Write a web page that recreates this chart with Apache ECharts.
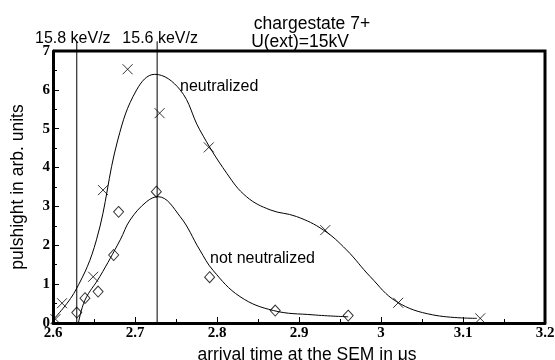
<!DOCTYPE html>
<html>
<head>
<meta charset="utf-8">
<script src="https://cdn.jsdelivr.net/npm/echarts@6/dist/echarts.min.js"></script>
<style>
  html, body { margin: 0; padding: 0; background: #fff; }
  #chart { width: 555px; height: 360px; }
</style>
</head>
<body>
<div id="chart"></div>
<script>
// measured points, arrival time (us) vs pulse height
const neutralX = [2.603, 2.611, 2.649, 2.661, 2.691, 2.730, 2.790, 2.932, 3.021, 3.121];
const neutralY = [0.10, 0.51, 1.19, 3.42, 6.53, 5.40, 4.52, 2.39, 0.52, 0.12];
const notNeutralX = [2.629, 2.639, 2.655, 2.674, 2.680, 2.726, 2.791, 2.871, 2.960];
const notNeutralY = [0.27, 0.64, 0.81, 1.75, 2.86, 3.38, 1.18, 0.32, 0.19];

// fitted curves
const fitNeutralX = [2.600, 2.627, 2.653, 2.679, 2.702, 2.724, 2.755, 2.779, 2.812, 2.836, 2.865, 2.897, 2.930, 2.958, 2.987, 3.019, 3.063, 3.117];
const fitNeutralY = [0.08, 0.82, 2.14, 4.71, 6.00, 6.40, 6.00, 4.97, 3.85, 3.25, 2.91, 2.74, 2.39, 1.88, 1.19, 0.55, 0.21, 0.12];
const fitNotNeutralX = [2.631, 2.639, 2.657, 2.682, 2.694, 2.714, 2.728, 2.755, 2.779, 2.795, 2.828, 2.869, 2.917, 2.960];
const fitNotNeutralY = [0.00, 0.59, 1.19, 2.14, 2.65, 3.12, 3.25, 2.74, 1.88, 1.36, 0.68, 0.32, 0.21, 0.16];

// energy markers
const energyX = [2.629, 2.727];
const energyLabels = ["15.8 keV/z", "15.6 keV/z"];

// axis range
const xMin = 2.6, xMax = 3.2, yMin = 0, yMax = 7;

const zip = (xs, ys) => xs.map((x, i) => [x, ys[i]]);
const tickFont = { fontFamily: "Liberation Serif", fontWeight: "bold", fontSize: 15, color: "#000" };
const bigFont = { fontFamily: "Liberation Sans", fontSize: 17.5, fontWeight: "normal", color: "#000" };

const energySeries = energyX.map((x, i) => ({
  type: "line",
  data: [
    [x, 0],
    {
      value: [x, 7.25],
      label: {
        show: true,
        formatter: energyLabels[i],
        position: "top",
        distance: 0,
        offset: [i === 0 ? -4 : 3, 5],
        fontFamily: "Liberation Sans",
        fontSize: 16,
        color: "#000",
      },
    },
  ],
  clip: false,
  symbol: "circle",
  symbolSize: 0,
  showSymbol: true,
  silent: true,
  lineStyle: { color: "#000", width: 1 },
}));

const chart = echarts.init(document.getElementById("chart"));
chart.setOption({
  animation: false,
  title: [
    { text: "chargestate 7+", left: 307, top: 10, textAlign: "center", textStyle: bigFont },
    { text: "U(ext)=15kV", left: 295, top: 28, textAlign: "center", textStyle: bigFont },
  ],
  grid: {
    left: 53,
    top: 51,
    right: 10,
    bottom: 37,
    outerBoundsMode: "none",
  },
  xAxis: {
    type: "value",
    min: xMin,
    max: xMax,
    interval: 0.1,
    name: "arrival time at the SEM in μs",
    nameLocation: "middle",
    nameGap: 14,
    nameTextStyle: Object.assign({ padding: [0, 0, 0, 16] }, bigFont),
    axisLine: { onZero: false, lineStyle: { color: "#000", width: 3 } },
    axisTick: { inside: true, length: 6, lineStyle: { color: "#000" } },
    minorTick: { show: true, splitNumber: 2, length: 4, lineStyle: { color: "#000" } },
    axisLabel: Object.assign({ margin: 3 }, tickFont),
    splitLine: { show: false },
  },
  yAxis: {
    type: "value",
    min: yMin,
    max: yMax,
    interval: 1,
    name: "pulshight in arb. units",
    nameLocation: "middle",
    nameGap: 26,
    nameTextStyle: bigFont,
    axisLine: { show: true, onZero: false, lineStyle: { color: "#000", width: 3 } },
    axisTick: { show: true, inside: true, length: 6, lineStyle: { color: "#000" } },
    minorTick: { show: true, splitNumber: 2, length: 4, lineStyle: { color: "#000" } },
    axisLabel: Object.assign({ margin: 3 }, tickFont),
    splitLine: { show: false },
  },
  series: [
    {
      type: "line",
      data: zip(fitNeutralX, fitNeutralY),
      smooth: 0.4,
      symbol: "none",
      lineStyle: { color: "#000", width: 1 },
    },
    {
      type: "line",
      data: zip(fitNotNeutralX, fitNotNeutralY),
      smooth: 0.4,
      symbol: "none",
      lineStyle: { color: "#000", width: 1 },
    },
    {
      type: "scatter",
      data: zip(neutralX, neutralY),
      symbol: "path://M0,0L10,10M10,0L0,10",
      symbolSize: 10,
      itemStyle: { color: "none", borderColor: "#000", borderWidth: 1 },
    },
    {
      type: "scatter",
      data: zip(notNeutralX, notNeutralY),
      symbol: "diamond",
      symbolSize: [10, 11],
      itemStyle: { color: "#fff", borderColor: "#000", borderWidth: 1 },
    },
    ...energySeries,
  ],
});

// frame top/right edges placed from the axis scales
const topLeft = chart.convertToPixel({ gridIndex: 0 }, [xMin, yMax]);
const topRight = chart.convertToPixel({ gridIndex: 0 }, [xMax, yMax]);
const bottomRight = chart.convertToPixel({ gridIndex: 0 }, [xMax, yMin]);
chart.setOption({
  graphic: [
    {
      type: "polyline",
      silent: true,
      shape: { points: [topLeft, topRight, bottomRight] },
      style: { stroke: "#000", lineWidth: 3, fill: null },
      z: 10,
    },
    { type: "text", left: 180, top: 79, style: { text: "neutralized", font: "16px Liberation Sans", fill: "#000" } },
    { type: "text", left: 210, top: 251, style: { text: "not neutralized", font: "16px Liberation Sans", fill: "#000" } },
  ],
});
</script>
</body>
</html>
